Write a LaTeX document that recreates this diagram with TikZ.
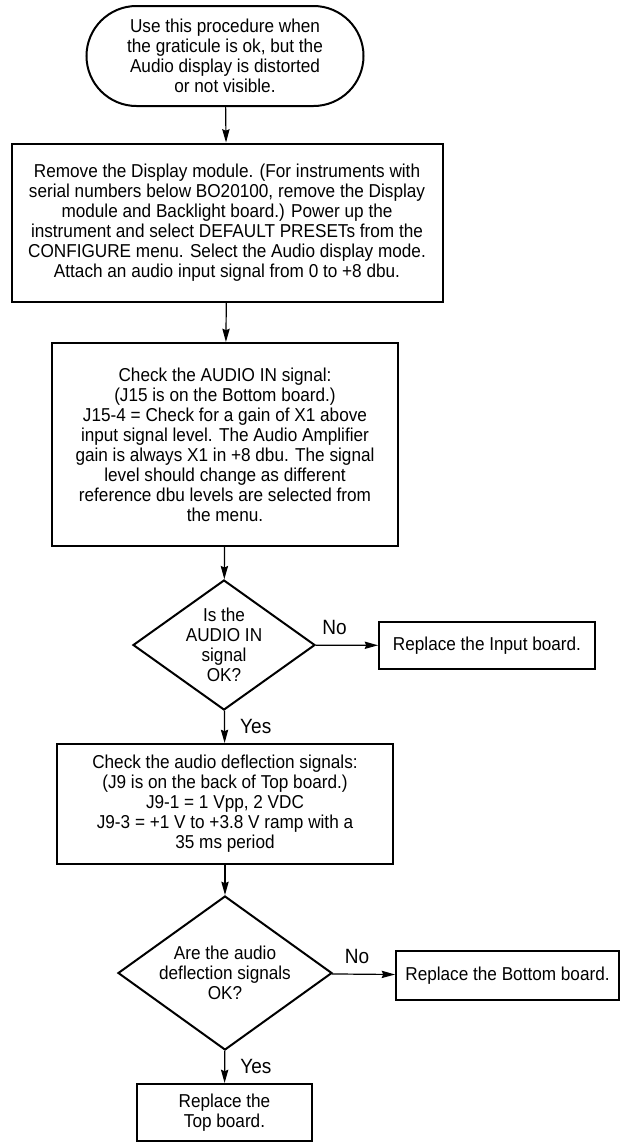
\documentclass[tikz,border=0pt]{standalone}
\usepackage{fontspec}
\setmainfont{Liberation Sans}[FakeStretch=0.92]
\usetikzlibrary{shapes.geometric,shapes.misc,arrows.meta}

\begin{document}
\begin{tikzpicture}[x=0.75pt,y=-0.75pt,
  font=\fontsize{14}{15}\selectfont,
  boite/.style={draw,line width=1.5pt,align=center,inner sep=0pt},
  debut/.style={boite,rounded rectangle,rounded rectangle arc length=180},
  choix/.style={boite,diamond},
  reponse/.style={font=\fontsize{15.5}{17}\selectfont},
  fleche/.style={line width=0.9pt,-{Stealth[length=10pt,width=5.5pt,inset=1.2pt]}}]

\useasboundingbox (0,0) rectangle (624,1146);

% Depart
\node[debut,minimum width=207.75pt,minimum height=75pt] (debut) at (225,56)
{Use this procedure when\\the graticule is ok, but the\\Audio display is distorted\\or not visible.};

% Preparation
\node[boite,minimum width=323.25pt,minimum height=118.5pt] (prep) at (227,222.5)
{Remove the Display module. (For instruments with\\
serial numbers below BO20100, remove the Display\\
module and Backlight board.) Power up the\\
instrument and select DEFAULT PRESETs from the\\
CONFIGURE menu. Select the Audio display mode.\\
Attach an audio input signal from 0 to +8 dbu.};

% Signal AUDIO IN
\node[boite,minimum width=259.5pt,minimum height=152.25pt] (audioin) at (225,444.5)
{Check the AUDIO IN signal:\\
(J15 is on the Bottom board.)\\
J15-4 = Check for a gain of X1 above\\
input signal level. The Audio Amplifier\\
gain is always X1 in +8 dbu. The signal\\
level should change as different\\
reference dbu levels are selected from\\
the menu.};

% Premier test
\node[choix,shape aspect=1.4,minimum width=136.5pt,minimum height=97.5pt] (test1) at (224,645)
{Is the\\AUDIO IN\\signal\\OK?};

\node[boite,minimum width=162pt,minimum height=35.25pt] (entree) at (487,645.5)
{Replace the Input board.};

% Signaux de deflexion
\node[boite,minimum width=252pt,minimum height=90pt] (deflex) at (225,804)
{Check the audio deflection signals:\\
(J9 is on the back of Top board.)\\
J9-1 = 1 Vpp, 2 VDC\\
J9-3 = +1 V to +3.8 V ramp with a\\
35 ms period};

% Second test
\node[choix,shape aspect=1.39,minimum width=160.5pt,minimum height=115.5pt] (test2) at (225,973)
{Are the audio\\deflection signals\\OK?};

\node[boite,minimum width=167.25pt,minimum height=36.75pt] (bas) at (507.5,975.5)
{Replace the Bottom board.};

\node[boite,minimum width=131.25pt,minimum height=42.75pt] (haut) at (224.5,1112.5)
{Replace the\\Top board.};

% Fleches
\draw[fleche] (debut) -- (prep);
\draw[fleche] (prep) -- (audioin);
\draw[fleche] (audioin) -- (test1);
\draw[fleche] (test1) -- node[reponse,above,pos=0.3,yshift=4pt] {No} (entree);
\draw[fleche] (test1) -- node[reponse,right,xshift=8pt] {Yes} (deflex);
\draw[fleche] (deflex) -- (test2);
\draw[fleche] (test2) -- node[reponse,above,pos=0.4,yshift=4pt] {No} (bas);
\draw[fleche] (test2) -- node[reponse,right,xshift=8pt] {Yes} (haut);

\end{tikzpicture}
\end{document}
